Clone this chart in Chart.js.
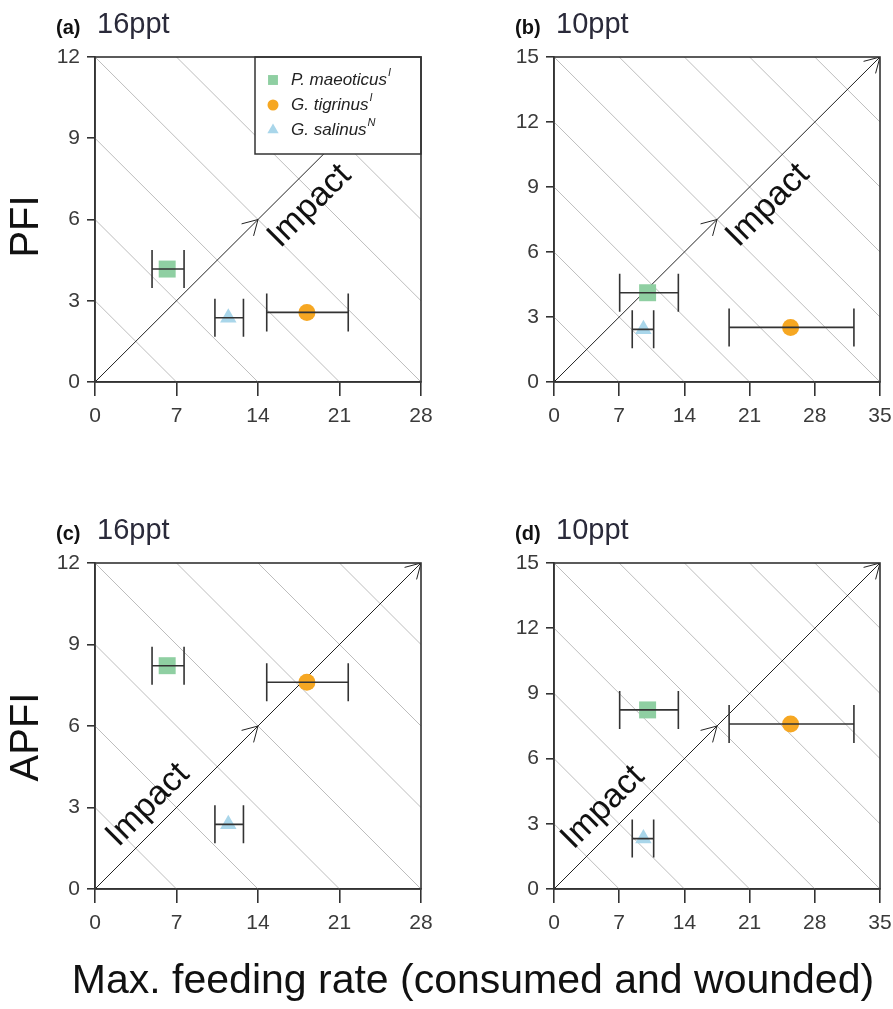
<!DOCTYPE html>
<html>
<head>
<meta charset="utf-8">
<script src="https://cdn.jsdelivr.net/npm/chart.js@4.4.0/dist/chart.umd.min.js"></script>
<style>
  body { margin: 0; background: #fff; width: 893px; height: 1009px; position: relative; overflow: hidden; font-family: "Liberation Sans", Arial, sans-serif; }
  canvas { position: absolute; }
  #xtitle { position: absolute; left: 0; width: 946px; top: 959px; text-align: center; font-size: 41px; line-height: 41px; color: #111; }
</style>
</head>
<body>
<canvas id="pa" width="446" height="470" style="left:0;top:0"></canvas>
<canvas id="pb" width="446" height="470" style="left:459px;top:0"></canvas>
<canvas id="pc" width="446" height="470" style="left:0;top:506px"></canvas>
<canvas id="pd" width="446" height="470" style="left:459px;top:506px"></canvas>
<div id="xtitle"></div>
<script>
// species and their status (I = invasive, N = native)
const species = ['P. maeoticus', 'G. tigrinus', 'G. salinus'];
const status = ['I', 'I', 'N'];
const colors = ['#8fcfa2', '#f6a722', '#a9d6ea'];
const styles = ['rect', 'circle', 'triangle'];

// max feeding rate (mean, lower, upper) at 16ppt and 10ppt
const fr16 = [6.2, 18.2, 11.45];
const fr16Lo = [4.9, 14.75, 10.3];
const fr16Hi = [7.65, 21.75, 12.75];
const fr10 = [10.05, 25.4, 9.6];
const fr10Lo = [7.05, 18.8, 8.4];
const fr10Hi = [13.35, 32.2, 10.7];

// PFI and APFI
const pfi16 = [4.17, 2.57, 2.37];
const pfi10 = [4.12, 2.52, 2.43];
const apfi16 = [8.22, 7.61, 2.38];
const apfi10 = [8.24, 7.59, 2.32];

const xTicks16 = [0, 7, 14, 21, 28];
const yTicks16 = [0, 3, 6, 9, 12];
const xTicks10 = [0, 7, 14, 21, 28, 35];
const yTicks10 = [0, 3, 6, 9, 12, 15];

const impactLabel = 'Impact';
const xTitle = 'Max. feeding rate (consumed and wounded)';
document.getElementById('xtitle').textContent = xTitle;

const DARK = '#333';

function arrowHead(ctx, x, y, ang) {
    const L = 17, a = Math.PI / 6;
    ctx.beginPath();
    ctx.moveTo(x - L * Math.cos(ang - a), y - L * Math.sin(ang - a));
    ctx.lineTo(x, y);
    ctx.lineTo(x - L * Math.cos(ang + a), y - L * Math.sin(ang + a));
    ctx.stroke();
}

function decoPlugin(p) {
    return {
        id: 'deco',
        beforeDatasetsDraw(chart) {
            const {ctx, chartArea: a, scales: {x, y}} = chart;
            const n = p.xTicks.length - 1;
            ctx.save();
            ctx.beginPath();
            ctx.rect(a.left, a.top, a.right - a.left, a.bottom - a.top);
            ctx.clip();
            // iso lines
            ctx.strokeStyle = '#bdbdbd';
            ctx.lineWidth = 1;
            for (let k = 1; k < 2 * n; k++) {
                const c = k / n;
                ctx.beginPath();
                ctx.moveTo(x.getPixelForValue(c * x.max), y.getPixelForValue(0));
                ctx.lineTo(x.getPixelForValue(0), y.getPixelForValue(c * y.max));
                ctx.stroke();
            }
            // impact arrow
            const x0 = x.getPixelForValue(0), y0 = y.getPixelForValue(0);
            const x1 = x.getPixelForValue(x.max), y1 = y.getPixelForValue(y.max);
            const ang = Math.atan2(y1 - y0, x1 - x0);
            ctx.strokeStyle = '#222';
            ctx.lineWidth = 1;
            ctx.beginPath();
            ctx.moveTo(x0, y0);
            ctx.lineTo(x1, y1);
            ctx.stroke();
            arrowHead(ctx, (x0 + x1) / 2, (y0 + y1) / 2, ang);
            arrowHead(ctx, x1, y1, ang);
            // impact label
            const len = Math.hypot(x1 - x0, y1 - y0);
            const ux = (x1 - x0) / len, uy = (y1 - y0) / len;
            const cx = x0 + ux * len * p.impactT - uy * p.impactOff;
            const cy = y0 + uy * len * p.impactT + ux * p.impactOff;
            ctx.translate(cx, cy);
            ctx.rotate(ang);
            ctx.fillStyle = '#111';
            ctx.font = '34px "Liberation Sans", Arial';
            ctx.textAlign = 'center';
            ctx.textBaseline = 'middle';
            ctx.fillText(impactLabel, 0, 0);
            ctx.restore();
        },
        afterDatasetsDraw(chart) {
            const {ctx, chartArea: a, scales: {x, y}} = chart;
            ctx.save();
            // error bars
            ctx.strokeStyle = DARK;
            ctx.lineWidth = 1.6;
            for (let i = 0; i < species.length; i++) {
                const py = y.getPixelForValue(p.y[i]);
                const xl = x.getPixelForValue(p.lo[i]), xh = x.getPixelForValue(p.hi[i]);
                ctx.beginPath();
                ctx.moveTo(xl, py); ctx.lineTo(xh, py);
                ctx.moveTo(xl, py - 19); ctx.lineTo(xl, py + 19);
                ctx.moveTo(xh, py - 19); ctx.lineTo(xh, py + 19);
                ctx.stroke();
            }
            // legend
            if (p.legend) {
                const w = 166, h = 97, lx = a.right - w, ly = a.top;
                ctx.fillStyle = '#fff';
                ctx.fillRect(lx, ly, w, h);
                ctx.strokeStyle = DARK;
                ctx.lineWidth = 1.5;
                ctx.strokeRect(lx, ly, w, h);
                const radii = [7, 5.5, 6.5];
                for (let i = 0; i < species.length; i++) {
                    const ry = ly + 23 + i * 25;
                    ctx.fillStyle = colors[i];
                    Chart.helpers.drawPoint(ctx, {pointStyle: styles[i], radius: radii[i], rotation: 0, borderWidth: 0}, lx + 18, ry);
                    ctx.fillStyle = '#222';
                    ctx.font = 'italic 17px "Liberation Sans", Arial';
                    ctx.textAlign = 'left';
                    ctx.textBaseline = 'middle';
                    ctx.fillText(species[i], lx + 36, ry);
                    const tw = ctx.measureText(species[i]).width;
                    ctx.font = 'italic 11px "Liberation Sans", Arial';
                    ctx.fillText(status[i], lx + 37 + tw, ry - 7);
                }
            }
            // frame
            ctx.strokeStyle = DARK;
            ctx.lineWidth = 1.6;
            ctx.strokeRect(a.left, a.top, a.right - a.left, a.bottom - a.top);
            // panel title
            ctx.fillStyle = '#111';
            ctx.textAlign = 'left';
            ctx.textBaseline = 'alphabetic';
            ctx.font = 'bold 20px "Liberation Sans", Arial';
            ctx.fillText(p.tag, a.left - 39, a.top - 23);
            ctx.fillStyle = '#2a2a3a';
            ctx.font = '29px "Liberation Sans", Arial';
            ctx.fillText(p.title, a.left + 2, a.top - 24);
            // y title
            if (p.yTitle) {
                ctx.translate(27, (a.top + a.bottom) / 2 + p.yTitleDy);
                ctx.rotate(-Math.PI / 2);
                ctx.fillStyle = '#111';
                ctx.font = '40px "Liberation Sans", Arial';
                ctx.textAlign = 'center';
                ctx.textBaseline = 'middle';
                ctx.fillText(p.yTitle, 0, 0);
            }
            ctx.restore();
        }
    };
}

function makePanel(id, p) {
    const tickFont = {family: '"Liberation Sans", Arial', size: 21};
    new Chart(document.getElementById(id), {
        type: 'scatter',
        data: {
            datasets: species.map((s, i) => ({
                label: s,
                data: [{x: p.x[i], y: p.y[i]}],
                pointStyle: styles[i],
                backgroundColor: colors[i],
                borderWidth: 0,
                pointRadius: [12, 8.5, 9.5][i]
            }))
        },
        options: {
            responsive: false,
            animation: false,
            layout: {padding: {top: 57, right: 25, left: 0, bottom: 0}},
            plugins: {legend: {display: false}, tooltip: {enabled: false}},
            scales: {
                x: {
                    type: 'linear',
                    min: 0, max: p.xTicks[p.xTicks.length - 1],
                    afterBuildTicks: s => { s.ticks = p.xTicks.map(v => ({value: v})); },
                    ticks: {padding: 8, color: '#3a3a3a', font: tickFont, maxRotation: 0, autoSkip: false},
                    grid: {drawOnChartArea: false, tickLength: 14, color: DARK, lineWidth: 1.6},
                    border: {display: true, color: DARK, width: 1.6},
                    afterFit: s => { s.height = p.xH; }
                },
                y: {
                    type: 'linear',
                    min: 0, max: p.yTicks[p.yTicks.length - 1],
                    afterBuildTicks: s => { s.ticks = p.yTicks.map(v => ({value: v})); },
                    ticks: {padding: 7, color: '#3a3a3a', font: tickFont, autoSkip: false},
                    grid: {drawOnChartArea: false, tickLength: 8, color: DARK, lineWidth: 1.6},
                    border: {display: true, color: DARK, width: 1.6},
                    afterFit: s => { s.width = 95; }
                }
            }
        },
        plugins: [decoPlugin(p)]
    });
}

makePanel('pa', {x: fr16, lo: fr16Lo, hi: fr16Hi, y: pfi16, xTicks: xTicks16, yTicks: yTicks16,
    xH: 88, tag: '(a)', title: '16ppt', yTitle: 'PFI', yTitleDy: 7,
    impactT: 0.6, impactOff: 27, legend: true});
makePanel('pb', {x: fr10, lo: fr10Lo, hi: fr10Hi, y: pfi10, xTicks: xTicks10, yTicks: yTicks10,
    xH: 88, tag: '(b)', title: '10ppt',
    impactT: 0.6, impactOff: 26});
makePanel('pc', {x: fr16, lo: fr16Lo, hi: fr16Hi, y: apfi16, xTicks: xTicks16, yTicks: yTicks16,
    xH: 87, tag: '(c)', title: '16ppt', yTitle: 'APFI', yTitleDy: 11,
    impactT: 0.21, impactOff: -22});
makePanel('pd', {x: fr10, lo: fr10Lo, hi: fr10Hi, y: apfi10, xTicks: xTicks10, yTicks: yTicks10,
    xH: 87, tag: '(d)', title: '10ppt',
    impactT: 0.2, impactOff: -23});
</script>
</body>
</html>
